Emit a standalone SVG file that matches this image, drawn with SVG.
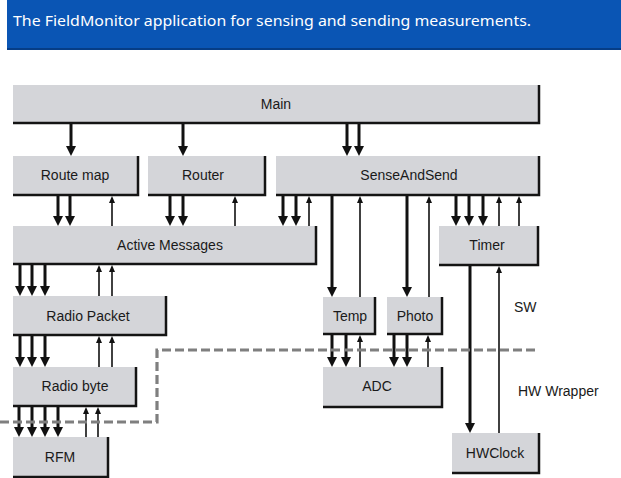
<svg xmlns="http://www.w3.org/2000/svg" width="621" height="478" viewBox="0 0 621 478">
  <style>
    .box { fill: #d4d5d9; }
    .edge { fill: none; stroke: #141414; stroke-width: 2.5; }
    .lbl { font-family: "Liberation Sans", Arial, sans-serif; font-size: 14px; fill: #1a1a1a; text-anchor: middle; }
    .side { font-family: "Liberation Sans", Arial, sans-serif; font-size: 14px; fill: #1a1a1a; }
    .thick { stroke: #111; stroke-width: 3; fill: none; marker-end: url(#headThick); }
    .thin { stroke: #111; stroke-width: 1.6; fill: none; marker-end: url(#headThin); }
    .layer { fill: none; stroke: #7f7f7f; stroke-width: 3.2; stroke-dasharray: 9 4; }
  </style>
  <defs>
    <marker id="headThick" viewBox="0 0 10 10" refX="0" refY="5" markerWidth="10" markerHeight="10" markerUnits="userSpaceOnUse" orient="auto">
      <path d="M0,0 L10,5 L0,10 z" fill="#111"/>
    </marker>
    <marker id="headThin" viewBox="0 0 7 6" refX="0" refY="3" markerWidth="7" markerHeight="6" markerUnits="userSpaceOnUse" orient="auto">
      <path d="M0,0 L7,3 L0,6 z" fill="#111"/>
    </marker>
  </defs>

  <rect width="621" height="478" fill="#ffffff"/>

  <!-- title banner -->
  <g id="banner">
    <rect x="7" y="0" width="614" height="50" fill="#0a55b4"/>
    <rect x="7" y="48" width="614" height="2" fill="#063d86"/>
    <text x="13" y="26" font-family="'Noto Sans', 'Open Sans', sans-serif" font-size="15" fill="#ffffff" textLength="518" lengthAdjust="spacingAndGlyphs">The FieldMonitor application for sensing and sending measurements.</text>
  </g>

  <!-- nodes -->
  <g id="main">
    <rect class="box" x="13" y="85" width="526" height="38"/>
    <polyline class="edge" points="539,85 539,123 13,123"/>
    <text class="lbl" x="276" y="109">Main</text>
  </g>
  <g id="routemap">
    <rect class="box" x="13" y="156" width="125" height="39"/>
    <polyline class="edge" points="138,156 138,195 13,195"/>
    <text class="lbl" x="75" y="180">Route map</text>
  </g>
  <g id="router">
    <rect class="box" x="148" y="156" width="117" height="39"/>
    <polyline class="edge" points="265,156 265,195 148,195"/>
    <text class="lbl" x="203" y="180">Router</text>
  </g>
  <g id="senseandsend">
    <rect class="box" x="276" y="156" width="263" height="39"/>
    <polyline class="edge" points="539,156 539,195 276,195"/>
    <text class="lbl" x="409" y="180">SenseAndSend</text>
  </g>
  <g id="activemessages">
    <rect class="box" x="13" y="226" width="303" height="38"/>
    <polyline class="edge" points="316,226 316,264 13,264"/>
    <text class="lbl" x="170" y="250">Active Messages</text>
  </g>
  <g id="timer">
    <rect class="box" x="439" y="226" width="99" height="39"/>
    <polyline class="edge" points="538,226 538,265 439,265"/>
    <text class="lbl" x="487" y="250">Timer</text>
  </g>
  <g id="radiopacket">
    <rect class="box" x="13" y="296" width="153" height="39"/>
    <polyline class="edge" points="166,296 166,335 13,335"/>
    <text class="lbl" x="88" y="321">Radio Packet</text>
  </g>
  <g id="radiobyte">
    <rect class="box" x="13" y="367" width="123" height="39"/>
    <polyline class="edge" points="136,367 136,406 13,406"/>
    <text class="lbl" x="75" y="391">Radio byte</text>
  </g>
  <g id="rfm">
    <rect class="box" x="13" y="437" width="95" height="40"/>
    <polyline class="edge" points="108,437 108,477 13,477"/>
    <text class="lbl" x="60" y="462">RFM</text>
  </g>
  <g id="temp">
    <rect class="box" x="323" y="297" width="52" height="37"/>
    <polyline class="edge" points="375,297 375,334 323,334"/>
    <text class="lbl" x="350" y="321">Temp</text>
  </g>
  <g id="photo">
    <rect class="box" x="387" y="297" width="55" height="37"/>
    <polyline class="edge" points="442,297 442,334 387,334"/>
    <text class="lbl" x="415" y="321">Photo</text>
  </g>
  <g id="adc">
    <rect class="box" x="323" y="367" width="119" height="40"/>
    <polyline class="edge" points="442,367 442,407 323,407"/>
    <text class="lbl" x="377" y="391">ADC</text>
  </g>
  <g id="hwclock">
    <rect class="box" x="452" y="433" width="87" height="40"/>
    <polyline class="edge" points="539,433 539,473 452,473"/>
    <text class="lbl" x="495" y="458">HWClock</text>
  </g>

  <!-- connectors: thick lines are commands (down), thin lines are events (up) -->
  <g id="connectors">
    <!-- Main -->
    <line class="thick" x1="71" y1="124" x2="71" y2="146"/>
    <line class="thick" x1="183" y1="124" x2="183" y2="146"/>
    <line class="thick" x1="347" y1="124" x2="347" y2="146"/>
    <line class="thick" x1="359" y1="124" x2="359" y2="146"/>
    <!-- Route map / Active Messages -->
    <line class="thick" x1="58" y1="196" x2="58" y2="216"/>
    <line class="thick" x1="70" y1="196" x2="70" y2="216"/>
    <line class="thin" x1="112" y1="226" x2="112" y2="203"/>
    <!-- Router / Active Messages -->
    <line class="thick" x1="170" y1="196" x2="170" y2="216"/>
    <line class="thick" x1="183" y1="196" x2="183" y2="216"/>
    <line class="thin" x1="235" y1="226" x2="235" y2="203"/>
    <!-- SenseAndSend / Active Messages -->
    <line class="thick" x1="283" y1="196" x2="283" y2="216"/>
    <line class="thick" x1="296" y1="196" x2="296" y2="216"/>
    <line class="thin" x1="309" y1="226" x2="309" y2="203"/>
    <!-- SenseAndSend / Temp, Photo -->
    <line class="thick" x1="332" y1="196" x2="332" y2="287"/>
    <line class="thin" x1="360" y1="297" x2="360" y2="203"/>
    <line class="thick" x1="407" y1="196" x2="407" y2="287"/>
    <line class="thin" x1="429" y1="297" x2="429" y2="203"/>
    <!-- SenseAndSend / Timer -->
    <line class="thick" x1="456" y1="196" x2="456" y2="216"/>
    <line class="thick" x1="469" y1="196" x2="469" y2="216"/>
    <line class="thick" x1="483" y1="196" x2="483" y2="216"/>
    <line class="thin" x1="499" y1="226" x2="499" y2="203"/>
    <line class="thin" x1="519" y1="226" x2="519" y2="203"/>
    <!-- Timer / HWClock -->
    <line class="thick" x1="470" y1="266" x2="470" y2="423"/>
    <line class="thin" x1="499" y1="433" x2="499" y2="273"/>
    <!-- Active Messages / Radio Packet -->
    <line class="thick" x1="20" y1="265" x2="20" y2="286"/>
    <line class="thick" x1="32" y1="265" x2="32" y2="286"/>
    <line class="thick" x1="45" y1="265" x2="45" y2="286"/>
    <line class="thin" x1="99" y1="296" x2="99" y2="272"/>
    <line class="thin" x1="112" y1="296" x2="112" y2="272"/>
    <!-- Radio Packet / Radio byte -->
    <line class="thick" x1="20" y1="336" x2="20" y2="357"/>
    <line class="thick" x1="32" y1="336" x2="32" y2="357"/>
    <line class="thick" x1="45" y1="336" x2="45" y2="357"/>
    <line class="thin" x1="99" y1="367" x2="99" y2="343"/>
    <line class="thin" x1="112" y1="367" x2="112" y2="343"/>
    <!-- Radio byte / RFM -->
    <line class="thick" x1="19" y1="407" x2="19" y2="427"/>
    <line class="thick" x1="32" y1="407" x2="32" y2="427"/>
    <line class="thick" x1="45" y1="407" x2="45" y2="427"/>
    <line class="thick" x1="58" y1="407" x2="58" y2="427"/>
    <line class="thin" x1="86" y1="437" x2="86" y2="414"/>
    <line class="thin" x1="98" y1="437" x2="98" y2="414"/>
    <!-- Temp, Photo / ADC -->
    <line class="thick" x1="332" y1="335" x2="332" y2="357"/>
    <line class="thick" x1="346" y1="335" x2="346" y2="357"/>
    <line class="thin" x1="360" y1="367" x2="360" y2="342"/>
    <line class="thick" x1="394" y1="335" x2="394" y2="357"/>
    <line class="thick" x1="407" y1="335" x2="407" y2="357"/>
    <line class="thin" x1="428" y1="367" x2="428" y2="342"/>
  </g>

  <!-- software / hardware-wrapper boundary -->
  <g id="boundary">
    <polyline class="layer" points="0,422 157,422 157,350 537,350"/>
    <text class="side" x="514" y="312">SW</text>
    <text class="side" x="518" y="396">HW Wrapper</text>
  </g>
</svg>
